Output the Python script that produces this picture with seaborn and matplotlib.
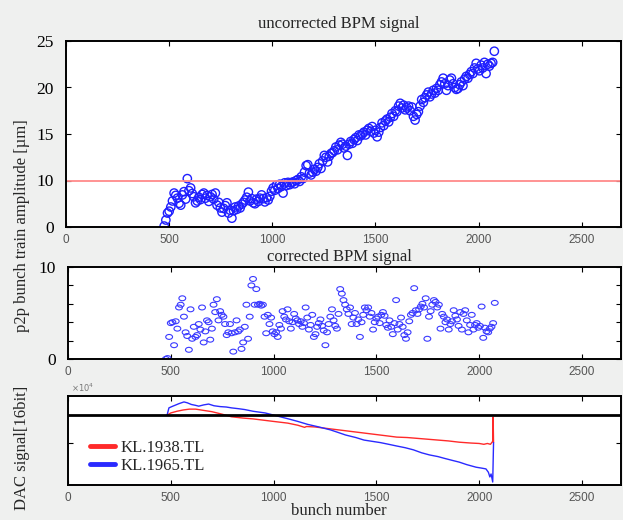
import numpy as np
import matplotlib.pyplot as plt
import seaborn as sns
from matplotlib.path import Path

# bunch numbers of the train (one reading every 8 bunches)
bunch = np.arange(476, 2084, 8)

# p2p amplitude before correction [um]
amp_uncorrected = [
    0.2, 1.5, 3.0, 3.4, 4.3, 5.6, 7.3, 6.8, 6.2, 5.1, 4.7, 6.9, 7.6, 6.0, 10.2, 7.8,
    8.4, 7.2, 6.5, 5.2, 5.6, 6.4, 5.9, 7.0, 7.3, 6.2, 6.8, 5.5, 6.5,
    7.0, 6.0, 7.3, 4.7, 5.3, 4.1, 3.2, 4.0, 4.6, 5.2, 3.0, 3.6,
    1.9, 3.5, 4.3, 3.8, 4.5, 4.1, 4.9, 5.3, 5.8, 6.4, 7.5, 5.6, 6.1,
    5.2, 5.0, 6.0, 5.5, 6.2, 6.9, 6.1, 5.4, 6.3, 5.8, 6.6, 7.7, 8.4,
    7.9, 9.0, 8.3, 9.2, 8.7, 7.3, 9.5, 8.9, 9.6, 9.1, 9.5, 9.7,
    9.3, 10.0, 10.1, 9.8, 10.4, 10.2, 10.9, 11.6, 11.7, 10.8, 10.6, 10.9, 11.2,
    11.0, 11.4, 11.8, 11.3, 12.1, 12.7, 12.5, 12.0, 12.6, 12.9, 13.0, 13.2,
    13.6, 13.3, 13.8, 14.1, 13.9, 13.5, 13.7, 12.7, 13.9, 14.2, 14.0, 14.4, 14.6,
    14.3, 14.9, 14.8, 15.0, 15.2, 14.9, 15.4, 15.6, 15.3, 15.8, 15.1, 15.4,
    14.7, 15.2, 15.7, 16.2, 15.9, 16.4, 16.6, 16.3, 16.8, 17.2, 16.9, 17.5, 17.4,
    18.0, 18.3, 17.8, 18.1, 17.6, 17.8, 18.0, 17.5, 17.9, 16.9, 16.5, 17.1,
    17.4, 18.0, 18.7, 18.4, 18.9, 19.2, 19.5, 19.0, 19.3, 19.7, 19.4, 19.9, 19.7,
    20.3, 20.6, 21.0, 20.4, 19.7, 20.2, 20.8, 21.0, 20.4, 20.0, 19.8, 19.9,
    20.3, 20.6, 20.2, 20.9, 21.2, 21.0, 21.4, 21.7, 21.5, 22.1, 22.6, 22.0, 21.8,
    22.4, 22.1, 22.7, 21.5, 22.5, 22.3, 22.6, 22.7, 23.9,
]

# p2p amplitude after correction [um]
amp_corrected = [
    0.0, 0.1, 2.4, 3.9, 4.0, 1.5, 4.1, 3.3, 5.6, 5.9, 6.6, 4.6, 2.9, 2.5, 1.0, 5.4,
    2.2, 3.5, 2.4, 2.6, 3.8, 3.2, 5.6, 1.8, 3.0, 4.2, 4.0, 2.1, 3.3,
    5.9, 5.1, 6.5, 4.2, 5.2, 4.8, 4.6, 3.8, 2.6, 2.9, 3.8, 2.8,
    0.8, 2.9, 4.2, 3.0, 3.2, 1.1, 1.8, 3.5, 5.9, 2.2, 4.6, 8.0, 8.7,
    5.9, 7.6, 5.9, 6.0, 5.8, 5.9, 4.6, 2.8, 4.8, 3.8, 4.5, 3.0, 2.7,
    2.9, 2.4, 3.7, 3.3, 5.2, 4.6, 4.3, 5.4, 4.1, 3.3, 4.0, 4.9,
    4.4, 4.2, 3.8, 4.1, 3.5, 3.9, 5.6, 4.5, 3.2, 3.7, 4.8, 2.4, 2.7,
    3.5, 3.9, 4.3, 3.6, 3.1, 1.5, 2.9, 3.8, 4.6, 5.4, 4.2, 3.6,
    3.3, 4.9, 7.6, 7.1, 6.4, 5.9, 5.4, 4.9, 5.6, 3.8, 4.5, 5.0, 3.8,
    4.3, 2.4, 4.0, 4.8, 5.6, 5.3, 5.6, 4.6, 5.0, 3.2, 4.0, 4.4,
    4.6, 3.9, 4.8, 5.1, 4.7, 3.7, 3.4, 4.2, 3.5, 2.7, 3.9, 6.4, 3.2,
    3.8, 4.5, 3.5, 2.6, 2.2, 2.9, 4.1, 4.8, 5.0, 7.7, 5.3, 4.9,
    5.4, 5.7, 6.0, 5.6, 6.6, 2.2, 4.6, 5.2, 5.9, 6.4, 6.2, 5.6, 5.9,
    3.3, 4.9, 4.6, 4.0, 4.3, 3.2, 3.8, 4.1, 5.3, 4.7, 4.3, 3.6,
    5.1, 3.2, 4.9, 5.3, 4.2, 2.9, 3.7, 4.8, 3.2, 3.7, 3.9, 3.4, 3.6,
    5.7, 2.3, 3.4, 3.0, 2.9, 3.3, 3.5, 3.9, 6.1,
]

threshold = 10

# DAC signals (x1e4)
red_x = [482, 500, 530, 560, 590, 621, 660, 700, 750, 795, 850, 900, 950, 1000,
         1069, 1118, 1151, 1160, 1200, 1250, 1300, 1350, 1400, 1450, 1500, 1550,
         1599, 1650, 1700, 1750, 1800, 1850, 1903, 1960, 2000, 2023, 2040, 2055,
         2066, 2068, 2070]
red_y = [0.65, 0.70, 0.74, 0.77, 0.79, 0.79, 0.76, 0.73, 0.67, 0.61, 0.58, 0.56,
         0.53, 0.50, 0.46, 0.41, 0.36, 0.38, 0.37, 0.34, 0.31, 0.28, 0.25, 0.22,
         0.19, 0.16, 0.13, 0.12, 0.10, 0.08, 0.06, 0.04, 0.01, -0.01, -0.02, -0.04,
         -0.02, -0.04, 0.03, 0.60, 0.00]
blue_x = [482, 491, 505, 520, 540, 564, 580, 600, 620, 636, 660, 684, 710, 740,
          770, 795, 830, 860, 900, 959, 1000, 1040, 1080, 1118, 1166, 1220, 1277,
          1320, 1350, 1400, 1440, 1480, 1520, 1560, 1599, 1640, 1680, 1720, 1758,
          1800, 1830, 1870, 1903, 1940, 1985, 2010, 2033, 2045, 2052, 2058, 2066, 2070]
blue_y = [0.65, 0.82, 0.85, 0.88, 0.92, 0.96, 0.94, 0.90, 0.88, 0.86, 0.89, 0.91,
          0.87, 0.85, 0.84, 0.82, 0.80, 0.78, 0.74, 0.70, 0.65, 0.60, 0.55, 0.50,
          0.43, 0.37, 0.30, 0.23, 0.18, 0.12, 0.06, 0.03, 0.00, -0.04, -0.08, -0.12,
          -0.17, -0.24, -0.29, -0.33, -0.37, -0.42, -0.46, -0.52, -0.58, -0.60,
          -0.62, -0.70, -0.81, -0.74, -0.93, 0.00]
baseline = 0.65

x_ticks = [0, 500, 1000, 1500, 2000, 2500]
top_yticks = [0, 10, 15, 20, 25]

sns.set_style("ticks")
plt.rcParams["font.family"] = ["Liberation Serif", "DejaVu Serif"]
plt.rcParams["mathtext.fontset"] = "dejavusans"

bg = "#eff0ef"
fig = plt.figure(figsize=(6.23, 5.2), dpi=100, facecolor=bg)
ax1 = fig.add_axes([66 / 623, 293 / 520, 555 / 623, 186 / 520])
ax2 = fig.add_axes([68 / 623, 161 / 520, 553 / 623, 92 / 520])
ax3 = fig.add_axes([68 / 623, 35 / 520, 553 / 623, 89 / 520])

xlim = (0, 2690)
sans = ["Liberation Sans", "DejaVu Sans"]


def style_axis(ax):
    ax.set_facecolor("white")
    for s in ax.spines.values():
        s.set_linewidth(1.4)
        s.set_color("black")
        s.set_visible(True)
    ax.tick_params(direction="in", length=3.5, width=0.8, top=True, right=True,
                   colors="black", labelsize=12.5, pad=9)
    ax.tick_params(axis="x", labelsize=8.5, labelcolor="#555555", pad=5)
    ax.set_xlim(*xlim)
    ax.set_xticks(x_ticks)
    for lab in ax.get_xticklabels():
        lab.set_fontfamily(sans)


# ---- top: uncorrected ----
def fwd(v):
    v = np.asarray(v, dtype=float)
    return np.where(v < 10, v / 2, v - 5)


def inv(z):
    z = np.asarray(z, dtype=float)
    return np.where(z < 5, z * 2, z + 5)


ax1.set_yscale("function", functions=(fwd, inv))
sns.scatterplot(x=bunch, y=amp_uncorrected, ax=ax1, marker="o", s=36, linewidth=1.0)
ax1.collections[0].set_facecolor("none")
ax1.collections[0].set_edgecolor("#1f1fff")
ax1.axhline(threshold, color="#ff8a8a", lw=1.3, zorder=1)
ax1.set_ylim(0, 25)
ax1.set_yticks(top_yticks)
ax1.set_yticklabels([str(t) for t in top_yticks])
style_axis(ax1)
fig.text(339 / 623, 1 - 24 / 520, "uncorrected BPM signal", ha="center", va="center", fontsize=12)

# ---- middle: corrected ----
circ = Path.unit_circle()
ellipse = Path(circ.vertices * np.array([1.0, 0.72]), circ.codes)
sns.scatterplot(x=bunch, y=amp_corrected, ax=ax2, marker=ellipse, s=24, linewidth=0.8)
ax2.collections[0].set_facecolor("none")
ax2.collections[0].set_edgecolor("#3a3aff")
ax2.set_ylim(0, 10)
ax2.set_yticks([0, 2, 4, 6, 8, 10])
ax2.set_yticklabels(["0", "", "", "", "", "10"])
style_axis(ax2)
fig.text(339 / 623, 1 - 257 / 520, "corrected BPM signal", ha="center", va="center", fontsize=12)

fig.text(22 / 623, 1 - 226 / 520, "p2p bunch train amplitude [µm]", rotation=90,
         ha="center", va="center", fontsize=12)

# ---- bottom: DAC signals ----
ax3.axhline(baseline, color="black", lw=2.0, zorder=3)
sns.lineplot(x=red_x, y=red_y, ax=ax3, color="#ff2a2a", lw=1.0, sort=False,
             estimator=None, label="KL.1938.TL")
sns.lineplot(x=blue_x, y=blue_y, ax=ax3, color="#2a2aff", lw=1.0, sort=False,
             estimator=None, label="KL.1965.TL")
ax3.set_ylim(-1.0, 1.1)
ax3.set_yticks([0])
ax3.set_yticklabels([""])
style_axis(ax3)
ax3.set_xlabel("")
ax3.set_ylabel("")
leg = ax3.legend(loc="center left", bbox_to_anchor=(0.04, 0.315), frameon=False,
                 fontsize=12, handlelength=1.5, handletextpad=0.3, labelspacing=0.15,
                 borderpad=0, borderaxespad=0)
for h in leg.get_lines():
    h.set_linewidth(3.5)
ax3.text(0.005, 1.02, r"$\times10^4$", transform=ax3.transAxes, fontsize=6,
         color="#777777", ha="left", va="bottom")

fig.text(339 / 623, 1 - 511 / 520, "bunch number", ha="center", va="center", fontsize=12)
fig.text(22 / 623, 1 - 448 / 520, "DAC signal[16bit]", rotation=90,
         ha="center", va="center", fontsize=12)

fig.savefig("out.png", dpi=100, facecolor=bg)
